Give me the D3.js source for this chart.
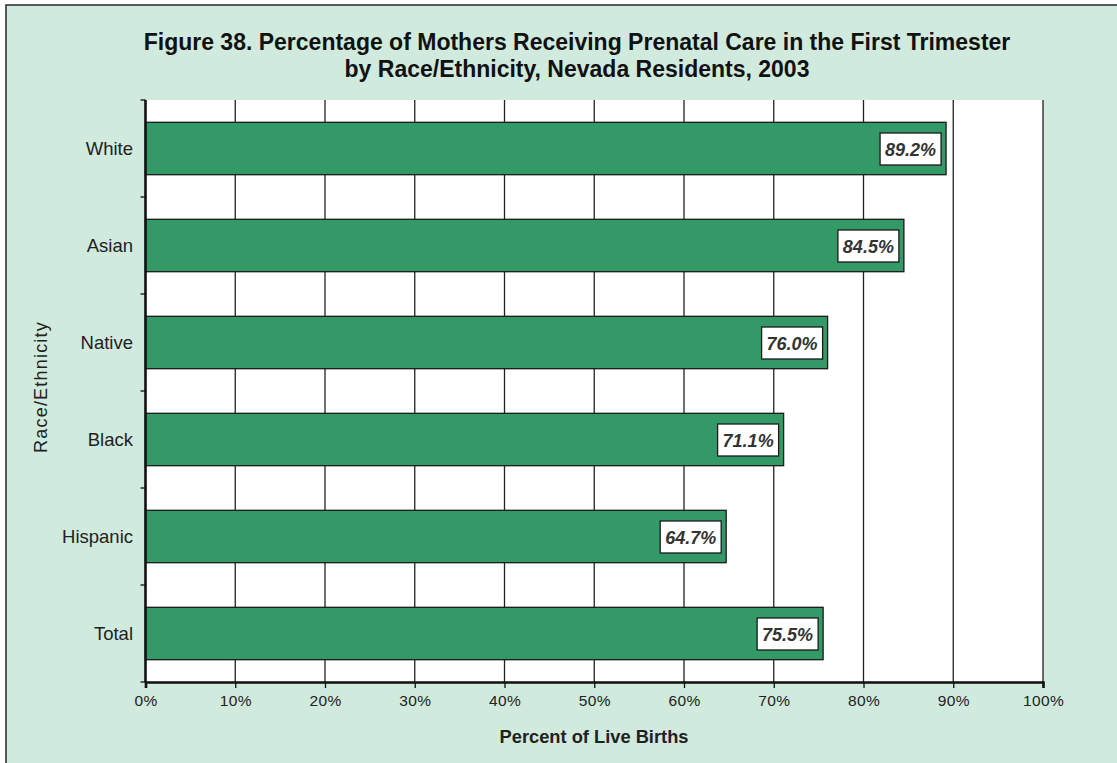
<!DOCTYPE html>
<html>
<head>
<meta charset="utf-8">
<script src="https://cdn.jsdelivr.net/npm/d3@7"></script>
<style>
  html, body { margin: 0; padding: 0; background: #ffffff; }
  svg { display: block; font-family: "Liberation Sans", Arial, sans-serif; }
</style>
</head>
<body>
<svg id="chart" width="1117" height="763"></svg>
<script>
// Prenatal care in the first trimester, Nevada residents, 2003
const categories = ["White", "Asian", "Native", "Black", "Hispanic", "Total"];
const percents = [89.2, 84.5, 76.0, 71.1, 64.7, 75.5];
const xTicks = [0, 10, 20, 30, 40, 50, 60, 70, 80, 90, 100];
const titleLines = [
  "Figure 38. Percentage of Mothers Receiving Prenatal Care in the First Trimester",
  "by Race/Ethnicity, Nevada Residents, 2003"
];

const data = categories.map((c, i) => ({ category: c, value: percents[i] }));

const svg = d3.select("#chart");
const W = 1117, H = 763;
const plot = { left: 145.5, right: 1043, top: 100, bottom: 682 };

// Panel background with border on top and left
svg.append("rect")
  .attr("x", 6).attr("y", 5)
  .attr("width", W + 10).attr("height", H + 10)
  .attr("fill", "#d0eade")
  .attr("stroke", "#333").attr("stroke-width", 1.6);

// Title
svg.append("g").selectAll("text").data(titleLines).join("text")
  .attr("x", 577).attr("y", (d, i) => 49.5 + i * 27.5)
  .attr("text-anchor", "middle")
  .attr("font-size", 23).attr("font-weight", "bold").attr("fill", "#111")
  .text(d => d);

const x = d3.scaleLinear().domain([0, 100]).range([plot.left, plot.right]);
const y = d3.scaleBand().domain(categories).range([plot.top, plot.bottom]).paddingInner(0.46).paddingOuter(0.23);
const band = d3.scaleBand().domain(categories).range([plot.top, plot.bottom]);

// Plot area
svg.append("rect")
  .attr("x", plot.left).attr("y", plot.top)
  .attr("width", plot.right - plot.left).attr("height", plot.bottom - plot.top)
  .attr("fill", "#ffffff");

// Vertical gridlines
svg.append("g").selectAll("line").data(xTicks.slice(1)).join("line")
  .attr("x1", d => x(d)).attr("x2", d => x(d))
  .attr("y1", plot.top).attr("y2", plot.bottom)
  .attr("stroke", "#222").attr("stroke-width", 1.3);

// Bars
svg.append("g").selectAll("rect").data(data).join("rect")
  .attr("x", x(0)).attr("y", d => y(d.category))
  .attr("width", d => x(d.value) - x(0))
  .attr("height", y.bandwidth())
  .attr("fill", "#339966")
  .attr("stroke", "#1a1a1a").attr("stroke-width", 1.3);

// Value labels in white boxes at bar ends
const labels = svg.append("g").selectAll("g").data(data).join("g");
labels.append("rect")
  .attr("x", d => x(d.value) - 5 - 61)
  .attr("y", d => y(d.category) + y.bandwidth() / 2 - 15.5)
  .attr("width", 61).attr("height", 32)
  .attr("fill", "#ffffff").attr("stroke", "#1a1a1a").attr("stroke-width", 1.3);
labels.append("text")
  .attr("x", d => x(d.value) - 5 - 30.5)
  .attr("y", d => y(d.category) + y.bandwidth() / 2 + 7)
  .attr("text-anchor", "middle")
  .attr("font-size", 18).attr("font-style", "italic").attr("font-weight", "bold")
  .attr("fill", "#333")
  .text(d => d.value.toFixed(1) + "%");

// X axis
const xAxis = d3.axisBottom(x).tickValues(xTicks).tickFormat(d => d + "%").tickSize(6).tickPadding(7);
const gx = svg.append("g").attr("transform", `translate(0,${plot.bottom})`).call(xAxis);
gx.select(".domain").attr("stroke", "#111").attr("stroke-width", 2.6);
gx.selectAll(".tick line").attr("stroke", "#111").attr("stroke-width", 1.3);
gx.selectAll(".tick text").attr("font-size", 15.5).attr("fill", "#222")
  .attr("letter-spacing", 0.4)
  .attr("font-family", "\"Liberation Sans\", Arial, sans-serif");

// Y axis: line, ticks at band boundaries, category labels
svg.append("line")
  .attr("x1", plot.left).attr("x2", plot.left)
  .attr("y1", plot.top).attr("y2", plot.bottom)
  .attr("stroke", "#111").attr("stroke-width", 2.6);
const boundaries = categories.map(c => band(c)).concat([plot.bottom]);
svg.append("g").selectAll("line").data(boundaries).join("line")
  .attr("x1", plot.left - 5).attr("x2", plot.left)
  .attr("y1", d => d).attr("y2", d => d)
  .attr("stroke", "#111").attr("stroke-width", 1.3);
svg.append("g").selectAll("text").data(categories).join("text")
  .attr("x", 133)
  .attr("y", d => band(d) + band.bandwidth() / 2 + 6.5)
  .attr("text-anchor", "end")
  .attr("font-size", 18.5).attr("fill", "#222")
  .text(d => d);

// Axis titles
svg.append("text")
  .attr("x", 594).attr("y", 743)
  .attr("text-anchor", "middle")
  .attr("font-size", 18.3).attr("font-weight", "bold").attr("fill", "#222")
  .text("Percent of Live Births");
svg.append("text")
  .attr("transform", "translate(47,387) rotate(-90)")
  .attr("text-anchor", "middle")
  .attr("font-size", 18).attr("fill", "#222")
  .attr("letter-spacing", 1.2)
  .text("Race/Ethnicity");
</script>
</body>
</html>
